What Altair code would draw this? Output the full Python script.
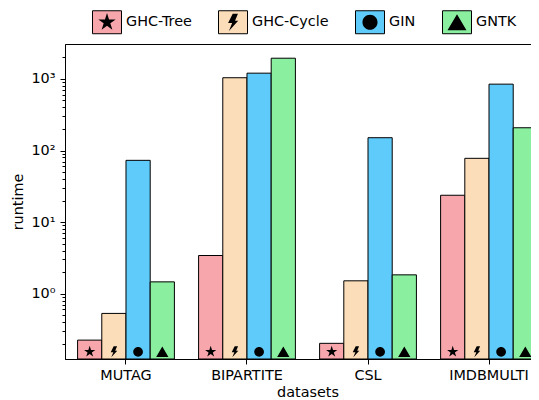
import math
import altair as alt
import pandas as pd

# ---- data ----
datasets = ["MUTAG", "BIPARTITE", "CSL", "IMDBMULTI"]
series_names = ["GHC-Tree", "GHC-Cycle", "GIN", "GNTK"]
ghc_tree = [0.224, 3.41, 0.202, 23.7]
ghc_cycle = [0.529, 1040, 1.51, 77.8]
gin = [72.9, 1205, 151, 846]
gntk = [1.46, 1950, 1.83, 208]
marker_level = 0.154
y_domain = [0.122, 3080]
y_tick_values = [0.2, 0.3, 0.4, 0.5, 0.6, 0.7, 0.8, 0.9,
                 1, 2, 3, 4, 5, 6, 7, 8, 9,
                 10, 20, 30, 40, 50, 60, 70, 80, 90,
                 100, 200, 300, 400, 500, 600, 700, 800, 900,
                 1000, 2000]
colors = ["#F7A6AC", "#FCDDB9", "#5FCBFA", "#8AF0A0"]

values_by_series = [ghc_tree, ghc_cycle, gin, gntk]
rows = []
for s, vals in zip(series_names, values_by_series):
    for d, v in zip(datasets, vals):
        rows.append({"dataset": d, "series": s, "series2": s,
                     "runtime": v, "base": y_domain[0], "level": marker_level})
df = pd.DataFrame(rows)

# ---- symbol shapes (unit box -1..1) ----
RX, RY = 1.0, 0.793
rect_path = f"M{-RX},{-RY}L{RX},{-RY}L{RX},{RY}L{-RX},{RY}Z"
# frame drawn once clockwise and once counter-clockwise: zero net fill
frame = rect_path + f"M{-RX},{-RY}L{-RX},{RY}L{RX},{RY}L{RX},{-RY}Z"


def star_path(R=0.63, ratio=0.382):
    pts = []
    for k in range(10):
        ang = math.radians(-90 + 36 * k)
        rad = R if k % 2 == 0 else R * ratio
        pts.append((rad * math.cos(ang), rad * math.sin(ang)))
    return "M" + "L".join(f"{x:.3f},{y:.3f}" for x, y in pts) + "Z"


bolt = ("M-0.02,-0.59L0.34,-0.59L0.14,-0.10L0.36,-0.10"
        "L-0.28,0.60L-0.06,0.06L-0.34,0.06Z")
circle = "M0.52,0A0.52,0.52 0 1,1 -0.52,0A0.52,0.52 0 1,1 0.52,0Z"
tri = "M0,-0.55L0.655,0.55L-0.655,0.55Z"
shape_range = [frame + star_path(), frame + bolt, frame + circle, frame + tri]

FONT = "DejaVu Sans"
FS = 14.4

x_enc = alt.X(
    "dataset:N", sort=datasets,
    scale=alt.Scale(paddingInner=0.2, paddingOuter=0.104),
    axis=alt.Axis(title="datasets", labelAngle=0, tickSize=5, labelPadding=4,
                  titlePadding=4),
)
y_scale = alt.Scale(type="log", domain=y_domain, nice=False)
y_axis = alt.Axis(
    title="runtime", values=y_tick_values, labelOverlap=False, grid=False,
    labelExpr=("datum.value == 1 ? '10⁰' : datum.value == 10 ? '10¹' : "
               "datum.value == 100 ? '10²' : datum.value == 1000 ? '10³' : ''"),
    tickSize={"condition": {"test": "indexof([1, 10, 100, 1000], datum.value) >= 0",
                            "value": 5}, "value": 3},
    labelPadding=5, titlePadding=5,
)
xoff_scale = alt.Scale(domain=series_names, paddingInner=0, paddingOuter=0)

legend_common = dict(orient="none", legendX=27, legendY=-37, direction="horizontal",
                     title=None, labelFont=FONT, labelFontSize=FS, labelOffset=4,
                     columnPadding=24, padding=0, symbolSize=841)

bars = alt.Chart(df).mark_bar(stroke="black", strokeWidth=1, opacity=1).encode(
    x=x_enc,
    xOffset=alt.XOffset("series:N", sort=series_names, scale=xoff_scale),
    y=alt.Y("runtime:Q", scale=y_scale, axis=y_axis, stack=None),
    y2=alt.Y2("base:Q"),
    fill=alt.Fill("series:N", sort=series_names,
                  scale=alt.Scale(domain=series_names, range=colors),
                  legend=alt.Legend(symbolType=rect_path, symbolStrokeColor="black",
                                    symbolStrokeWidth=1, symbolOpacity=1,
                                    **legend_common)),
)

markers = alt.Chart(df).mark_point(filled=True, size=350, opacity=1,
                                   strokeWidth=0, strokeOpacity=0).encode(
    x=x_enc,
    xOffset=alt.XOffset("series2:N", sort=series_names, scale=xoff_scale),
    y=alt.Y("level:Q", scale=y_scale, axis=y_axis),
    fill=alt.value("black"),
    shape=alt.Shape("series2:N", sort=series_names,
                    scale=alt.Scale(range=shape_range),
                    legend=alt.Legend(symbolFillColor="black", symbolStrokeColor="transparent",
                                      symbolStrokeWidth=1, symbolOpacity=1, labelOpacity=0,
                                      **legend_common)),
)

chart = alt.layer(bars, markers).properties(
    width=485, height=315,
    autosize=alt.AutoSizeParams(type="none"),
    padding={"left": 57, "top": 36, "right": -19, "bottom": 41},
).configure(font=FONT).configure_view(
    stroke="black", strokeWidth=1
).configure_axis(
    labelFont=FONT, labelFontSize=FS, titleFont=FONT, titleFontSize=FS,
    titleFontWeight="normal", labelColor="black", titleColor="black",
    tickColor="black", domainColor="black", tickWidth=1, domainWidth=1,
    grid=False,
)

chart.save("out.html", embed_options={"renderer": "svg", "actions": False})
